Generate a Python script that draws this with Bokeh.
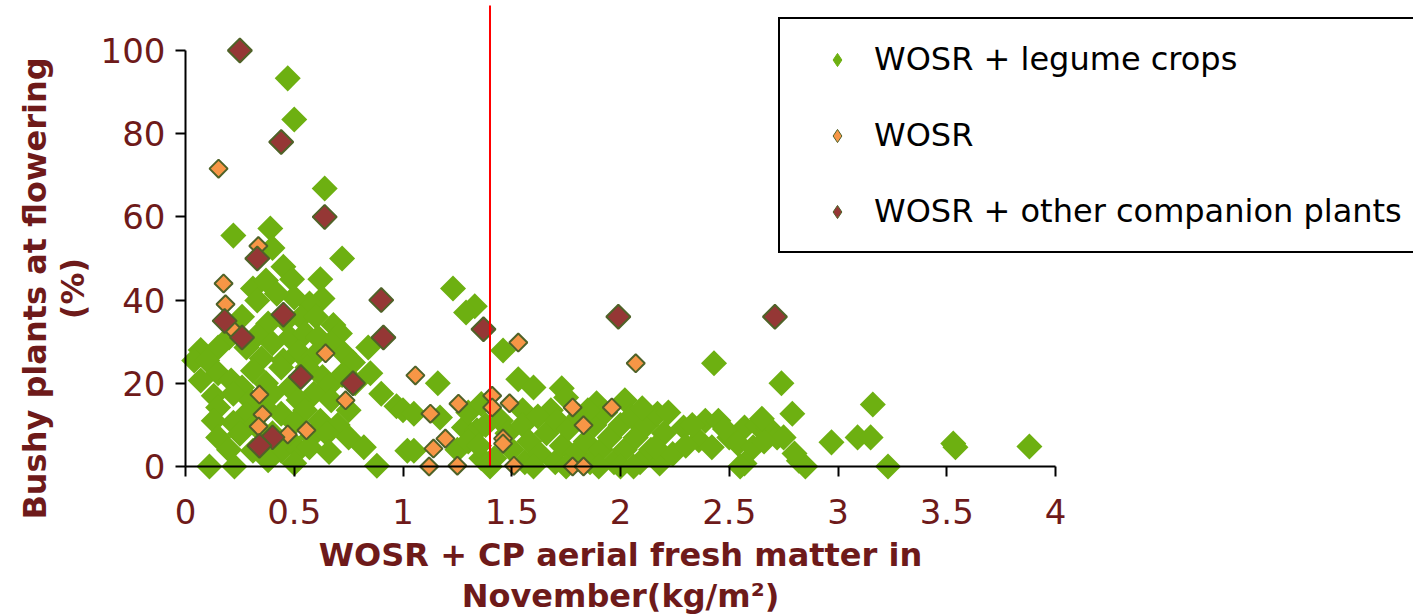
import math
from bokeh.plotting import figure
from bokeh.models import (Range1d, Legend, LegendItem, Label, FixedTicker,
                          NumeralTickFormatter)
from bokeh.embed import file_html
from bokeh.resources import INLINE

# ---------------- data ----------------
legume_x = [0.47, 0.50, 0.64, 0.22, 0.39, 0.72, 0.40, 0.45, 0.49, 0.62, 0.31, 0.37, 0.63, 0.57, 0.50, 0.33, 0.42,
            1.23, 1.33, 1.29, 1.46, 1.53,
            0.26, 0.38, 0.46, 0.53, 0.60, 0.68, 0.20, 0.33, 0.48, 0.55, 0.61, 0.71,
            0.07, 0.15, 0.28, 0.40, 0.52, 0.67, 0.73, 0.84, 0.04, 0.10, 0.35, 0.45, 0.59, 0.77,
            0.15, 0.31, 0.44, 0.56, 0.63, 0.85, 0.72, 0.07, 0.21, 0.37, 0.48, 0.26, 0.66, 0.78, 1.16,
            0.13, 0.22, 0.40, 0.59, 0.90, 0.30, 0.52, 0.15, 0.36, 0.55, 0.75, 0.67, 0.97, 1.00, 1.05,
            0.28, 0.44, 0.13, 0.22, 0.32, 0.50, 0.62, 0.70, 1.17, 1.28,
            0.15, 0.25, 0.40, 0.48, 0.58, 0.65, 0.75, 1.34,
            0.20, 0.31, 0.44, 0.52, 0.57, 0.66, 0.82, 0.11, 0.225, 0.88, 0.38, 0.50, 1.02, 1.05, 1.25, 1.30, 1.36,
            1.60, 1.73, 1.75, 1.89, 2.02, 1.55, 1.68, 1.45, 1.38, 1.35, 1.42, 1.48, 1.50, 1.55, 1.56, 1.58,
            1.62, 1.63, 1.66, 1.70, 1.71, 1.73, 1.76, 1.79, 1.81, 1.84, 1.86, 1.88, 1.91, 1.93, 1.95, 1.97,
            2.00, 2.02, 2.05, 2.07, 2.09, 2.12, 2.14, 2.17, 2.18, 2.20, 2.22, 2.24, 1.40, 1.60, 1.75, 1.90,
            2.00, 2.06, 1.85, 2.10, 1.30, 1.36,
            2.43, 2.74, 2.79, 2.29, 2.39, 2.45, 2.57, 2.63, 2.68, 2.72, 2.36, 2.42, 2.50, 2.54, 2.61, 2.16,
            2.57, 2.82, 2.85, 2.75, 2.80, 2.66, 2.30, 2.33, 2.48, 2.55, 2.65,
            2.97, 3.09, 3.15, 3.16, 3.23, 3.53, 3.54, 3.88]
legume_y = [93.3, 83.4, 66.8, 55.5, 57.2, 50.0, 52.5, 48.0, 45.0, 45.0, 42.8, 44.7, 40.4, 39.2, 40.6, 39.9, 41.5,
            42.8, 38.5, 37.0, 27.9, 21.0,
            36.0, 34.4, 35.0, 35.8, 36.0, 34.0, 31.0, 31.5, 31.0, 32.0, 31.0, 32.0,
            28.0, 28.6, 28.6, 29.6, 27.5, 29.6, 27.1, 28.6, 25.5, 25.5, 26.0, 25.5, 26.5, 25.0,
            22.4, 23.0, 23.8, 23.8, 21.5, 22.4, 22.0, 20.7, 20.7, 20.0, 19.0, 19.0, 19.5, 20.0, 20.0,
            17.0, 17.5, 17.5, 17.5, 17.5, 15.8, 16.0, 14.2, 14.5, 13.5, 13.5, 15.9, 14.5, 13.5, 12.7,
            12.7, 12.7, 11.0, 10.5, 10.0, 10.5, 11.0, 10.0, 11.8, 9.4,
            7.0, 7.9, 8.0, 6.3, 7.2, 7.9, 7.0, 8.7,
            4.0, 3.8, 3.8, 4.0, 4.6, 3.5, 4.6, 0.0, 0.0, 0.2, 1.5, 0.8, 3.8, 3.8, 4.0, 6.0, 2.0,
            19.0, 18.8, 16.6, 15.2, 15.9, 13.5, 13.5, 11.0, 10.0, 5.0, 2.0, 8.0, 4.0, 10.0, 1.0, 6.0,
            12.0, 3.0, 8.0, 1.0, 11.0, 5.0, 9.0, 3.0, 12.0, 6.0, 1.0, 10.0, 4.0, 13.0, 7.0, 1.0,
            10.0, 4.0, 12.0, 7.0, 1.0, 10.0, 4.0, 12.7, 0.7, 8.0, 13.0, 3.0, 0.0, 0.0, 0.0, 0.0,
            0.0, 0.0, 13.5, 14.0, 13.0, 15.0,
            24.8, 20.0, 12.7, 9.4, 11.0, 11.0, 9.4, 9.9, 9.4, 7.0, 6.3, 4.6, 7.0, 5.5, 4.6, 4.6,
            0.7, 1.4, 0.0, 7.0, 3.1, 6.0, 5.0, 10.0, 9.0, 0.0, 11.5,
            5.8, 7.0, 7.0, 14.9, 0.0, 5.5, 4.6, 4.8]

wosr_x = [0.152, 0.335, 0.175, 0.184, 0.216, 0.644, 0.34, 0.354, 0.336, 0.47, 0.556, 0.736, 1.057, 1.126,
          1.255, 1.195, 1.14, 1.12, 1.25, 1.41, 1.41, 1.49, 1.78, 1.96, 1.83, 1.46, 1.46, 1.51, 1.78, 1.83,
          2.07, 1.53]
wosr_y = [71.6, 53.0, 44.0, 39.0, 33.0, 27.2, 17.3, 12.5, 9.6, 7.7, 8.7, 15.9, 21.9, 12.7,
          15.1, 6.7, 4.3, 0.0, 0.2, 17.0, 14.2, 15.2, 14.2, 14.2, 9.9, 6.7, 5.5, 0.2, 0.0, 0.0,
          24.8, 29.8]

other_x = [0.25, 0.44, 0.64, 0.33, 0.90, 0.45, 1.37, 0.18, 0.26, 0.91, 0.53, 0.77, 0.40, 0.34, 1.99, 2.71]
other_y = [100.0, 78.0, 60.0, 50.0, 40.0, 36.5, 33.0, 35.0, 31.0, 31.0, 21.5, 20.0, 7.0, 5.0, 36.0, 36.0]

series_labels = ["WOSR + legume crops", "WOSR", "WOSR + other companion plants"]
threshold_x = 1.4
x_ticks = [0, 0.5, 1, 1.5, 2, 2.5, 3, 3.5, 4]
y_ticks = [0, 20, 40, 60, 80, 100]
x_title = "WOSR + CP aerial fresh matter in\nNovember(kg/m\u00b2)"
y_title = "Bushy plants at flowering\n(%)"

# ---------------- style ----------------
GREEN = "#6DB011"
ORANGE = "#F79646"
DARKRED = "#953735"
OLIVE = "#4F6228"
MAROON = "#6E1A1A"
FONT = "DejaVu Sans"

W, H = 1413, 614
X0_PX, X_SCALE = 185.0, 217.5     # pixel of x=0, pixels per unit
Y0_PX, Y_SCALE = 466.0, 4.16      # pixel of y=0, pixels per unit
x_start = -X0_PX / X_SCALE
x_end = (W - X0_PX) / X_SCALE
y_end = Y0_PX / Y_SCALE
y_start = -(H - Y0_PX) / Y_SCALE
line_top = (Y0_PX - 5) / Y_SCALE

p = figure(width=W, height=H, output_backend="svg", toolbar_location=None,
           x_range=Range1d(x_start, x_end), y_range=Range1d(y_start, y_end),
           min_border=0, min_border_left=0, min_border_right=0,
           min_border_top=0, min_border_bottom=0)
p.outline_line_color = None
p.xgrid.visible = False
p.ygrid.visible = False
p.background_fill_color = "white"
p.border_fill_color = "white"

r_g = p.scatter(legume_x, legume_y, marker="square", size=18.4, angle=math.pi / 4,
                fill_color=GREEN, line_color=None)
r_o = p.scatter(wosr_x, wosr_y, marker="square", size=12.8, angle=math.pi / 4,
                fill_color=ORANGE, line_color=OLIVE, line_width=2)
r_r = p.scatter(other_x, other_y, marker="square", size=17.0, angle=math.pi / 4,
                fill_color=DARKRED, line_color=OLIVE, line_width=2)

p.segment(x0=[threshold_x], y0=[0], x1=[threshold_x], y1=[line_top], line_color="#FF0000", line_width=2)

# legend-only glyphs: same data, diamond shape, zero size in the plot
# (the legend sizes its glyph from the legend geometry)
l_g = p.scatter(legume_x, legume_y, marker="diamond", size=0, fill_color=GREEN, line_color=GREEN,
                line_width=1)
l_o = p.scatter(wosr_x, wosr_y, marker="diamond", size=0, fill_color=ORANGE, line_color=OLIVE,
                line_width=1)
l_r = p.scatter(other_x, other_y, marker="diamond", size=0, fill_color=DARKRED, line_color=OLIVE,
                line_width=1)

# axes
xa = p.xaxis[0]
xa.fixed_location = 0
xa.bounds = (0, 4)
xa.ticker = FixedTicker(ticks=x_ticks)
xa.formatter = NumeralTickFormatter(format="0.[0]")
xa.axis_line_color = "black"
xa.axis_line_width = 2
xa.major_tick_line_color = "black"
xa.major_tick_line_width = 2
xa.major_tick_in = 0
xa.major_tick_out = 10
xa.minor_tick_line_color = None
xa.major_label_standoff = 22
xa.major_label_text_font = FONT
xa.major_label_text_font_size = "34px"
xa.major_label_text_color = MAROON

ya = p.yaxis[0]
ya.fixed_location = 0
ya.bounds = (0, 100)
ya.ticker = FixedTicker(ticks=y_ticks)
ya.axis_line_color = "black"
ya.axis_line_width = 2
ya.major_tick_line_color = "black"
ya.major_tick_line_width = 2
ya.major_tick_in = 0
ya.major_tick_out = 10
ya.minor_tick_line_color = None
ya.major_label_standoff = 10
ya.major_label_text_font = FONT
ya.major_label_text_font_size = "34px"
ya.major_label_text_color = MAROON

xlab = Label(x=620, y=H - 575, x_units="screen", y_units="screen", text=x_title,
             text_align="center", text_baseline="middle", text_line_height=1.1,
             text_font=FONT, text_font_size="32px", text_font_style="bold", text_color=MAROON)
ylab = Label(x=53, y=H - 288, x_units="screen", y_units="screen", text=y_title,
             angle=math.pi / 2, text_align="center", text_baseline="middle", text_line_height=1.0,
             text_font=FONT, text_font_size="32px", text_font_style="bold", text_color=MAROON)
p.add_layout(xlab)
p.add_layout(ylab)

legend = Legend(items=[LegendItem(label=series_labels[0], renderers=[l_g]),
                       LegendItem(label=series_labels[1], renderers=[l_o]),
                       LegendItem(label=series_labels[2], renderers=[l_r])],
                location=(778, H - 253), orientation="vertical",
                padding=20, margin=0, spacing=36,
                glyph_width=74, glyph_height=33, label_standoff=0,
                label_width=640, label_height=40,
                label_text_font=FONT, label_text_font_size="32px", label_text_color="black",
                label_text_baseline="alphabetic",
                border_line_color="black", border_line_width=2, border_line_alpha=1.0,
                background_fill_color="white", background_fill_alpha=1.0)
p.add_layout(legend, "center")

open("out.html", "w").write(file_html(p, INLINE))
